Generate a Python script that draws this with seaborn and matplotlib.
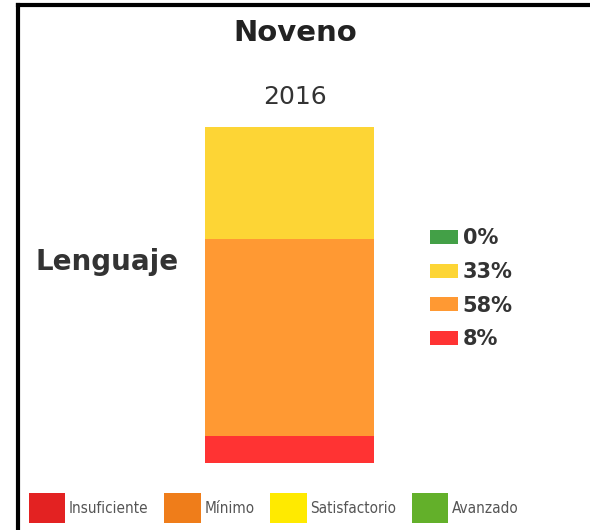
import matplotlib
matplotlib.use("Agg")
import matplotlib.pyplot as plt
from matplotlib.patches import Patch
from matplotlib.lines import Line2D
import seaborn as sns
import pandas as pd
import numpy as np

grade = "Noveno"
year = "2016"
subject = "Lenguaje"
levels = ["Insuficiente", "Mínimo", "Satisfactorio", "Avanzado"]
percent = [8, 58, 33, 0]
bar_colors = ["#ff3333", "#ff9933", "#fdd535", "#43a047"]
key_colors = ["#e32222", "#ef7d1a", "#ffea00", "#63b02a"]

sns.set_theme(style="white")
plt.rcParams["font.family"] = ["DejaVu Sans"]

W, H = 590, 530
fig = plt.figure(figsize=(W / 100, H / 100), dpi=100)
fig.patch.set_facecolor("white")

ax = fig.add_axes([205 / W, (H - 463) / H, 169 / W, 336 / H])
cum = np.cumsum(percent)
df = pd.DataFrame({"subject": [subject] * 4, "level": levels,
                   "pct": percent, "cum": cum})

bar_handles = {}
for i in reversed(range(len(levels))):
    sns.barplot(data=df.iloc[[i]], x="subject", y="cum", color=bar_colors[i],
                width=1, saturation=1, ax=ax, linewidth=0, errorbar=None)
    bar_handles[i] = ax.patches[-1]

ax.set_xlim(-0.5, 0.5)
ax.set_ylim(0, cum[-1])
ax.axis("off")

# Right legend with percentages (top to bottom: Avanzado .. Insuficiente)
order = [3, 2, 1, 0]
fig.legend([bar_handles[i] for i in order], [f"{percent[i]}%" for i in order],
           loc="upper left", bbox_to_anchor=(420 / W, 1 - 218 / H),
           frameon=False, handlelength=1.3, handleheight=0.65,
           handletextpad=0.25, labelspacing=0.65, borderpad=0,
           prop=dict(weight="bold", size=15), labelcolor="#333333")

# Bottom key
key_handles = [Patch(facecolor=c, edgecolor="none") for c in key_colors]
fig.legend(key_handles, levels, loc="center left", ncol=4,
           bbox_to_anchor=(21 / W, 1 - 508 / H), frameon=False,
           handlelength=2.4, handleheight=2.6, handletextpad=0.25,
           columnspacing=1.0, borderpad=0,
           prop=dict(size=11, stretch="condensed"),
           labelcolor="#555555")

fig.text(295 / W, 1 - 33 / H, grade, ha="center", va="center",
         fontsize=21, fontweight="bold", color="#222222")
fig.text(295 / W, 1 - 97 / H, year, ha="center", va="center",
         fontsize=18, color="#333333")
fig.text(35 / W, 1 - 262 / H, subject, ha="left", va="center",
         fontsize=20, fontweight="bold", color="#333333")

fig.add_artist(Line2D([18 / W, 18 / W], [0, 1 - 5 / H], transform=fig.transFigure,
                      color="black", lw=3, solid_capstyle="projecting"))
fig.add_artist(Line2D([18 / W, 1], [1 - 5 / H, 1 - 5 / H], transform=fig.transFigure,
                      color="black", lw=3, solid_capstyle="projecting"))

fig.savefig("out.png", dpi=100)
